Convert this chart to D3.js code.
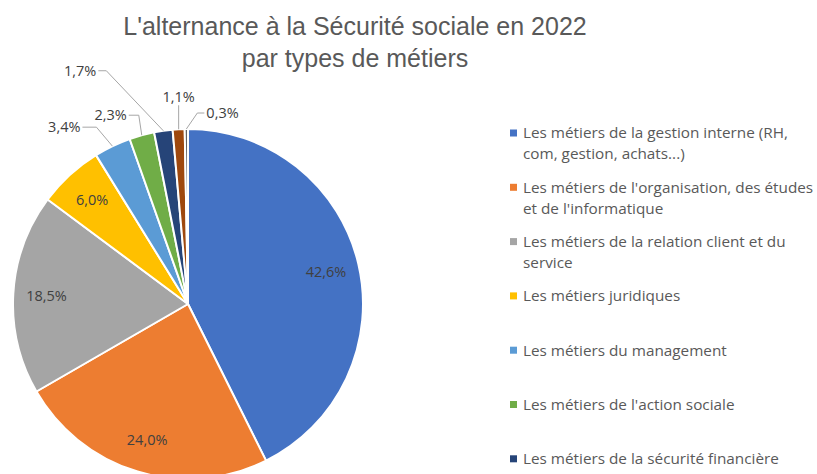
<!DOCTYPE html>
<html><head><meta charset="utf-8">
<script src="https://cdn.jsdelivr.net/npm/d3@7/dist/d3.min.js"></script>
<style>body{margin:0;background:#fff}svg{display:block}</style>
</head><body><svg id="c" width="817" height="474"></svg>
<script>
const categories = [
  ["Les métiers de la gestion interne (RH,", "com, gestion, achats...)"],
  ["Les métiers de l'organisation, des études", "et de l'informatique"],
  ["Les métiers de la relation client et du", "service"],
  ["Les métiers juridiques"],
  ["Les métiers du management"],
  ["Les métiers de l'action sociale"],
  ["Les métiers de la sécurité financière"],
  ["Les métiers de la maîtrise des risques"],
  ["Autres métiers"]
];
const values = [42.6, 24.0, 18.5, 6.0, 3.4, 2.3, 1.7, 1.1, 0.3];
const colors = ["#4472C4", "#ED7D31", "#A5A5A5", "#FFC000", "#5B9BD5", "#70AD47", "#264478", "#9E480E", "#636363"];
const titleLines = ["L'alternance à la Sécurité sociale en 2022", "par types de métiers"];
// leader elbow offsets for outside labels (index -> [dx, dy, horizontal run, side])
const outside = {4: [-16, -19, -14, "end"], 5: [-3, -20, -10, "end"], 6: [-57, -60, -8, "end"], 7: [0, -24, 0, "middle"], 8: [11, -16, 7, "start"]};

const svg = d3.select("#c");
const W = 817, H = 474;
const cx = 188, cy = 304, R = 175;
const font = "'Liberation Sans', Arial, sans-serif";
const font2 = "'Open Sans', 'Liberation Sans', sans-serif";

svg.append("g").selectAll("text").data(titleLines).join("text")
  .attr("x", 355).attr("y", (d, i) => 35 + i * 32)
  .attr("text-anchor", "middle").attr("font-family", font)
  .attr("font-size", 25).attr("fill", "#595959").text(d => d);

const pie = d3.pie().sort(null).value(d => d)(values);
const arc = d3.arc().innerRadius(0).outerRadius(R);
const g = svg.append("g").attr("transform", `translate(${cx},${cy})`);
g.selectAll("path").data(pie).join("path")
  .attr("d", arc).attr("fill", (d, i) => colors[i])
  .attr("stroke", "#fff").attr("stroke-width", 2).attr("stroke-linejoin", "round");

const fmt = v => v.toFixed(1).replace(".", ",") + "%";
const inArc = d3.arc().innerRadius(R * 0.81).outerRadius(R * 0.81);
const edgeArc = d3.arc().innerRadius(R).outerRadius(R);

pie.forEach((d, i) => {
  if (outside[i]) {
    const [ox, oy, run, anchor] = outside[i];
    const [ex, ey] = edgeArc.centroid(d);
    const bx = ex + ox, by = ey + oy;
    const hx = bx + run;
    g.append("polyline")
      .attr("points", `${ex},${ey} ${bx},${by} ${hx},${by}`)
      .attr("fill", "none").attr("stroke", "#A6A6A6").attr("stroke-width", 1);
    let tx = hx, ty = by;
    if (anchor === "end") tx = hx - 2;
    if (anchor === "start") tx = hx + 2;
    if (anchor === "middle") ty = by - 8;
    g.append("text").attr("x", tx).attr("y", ty).attr("dy", "0.35em")
      .attr("text-anchor", anchor).attr("font-family", font2).attr("font-size", 14.5)
      .attr("fill", "#404040").text(fmt(values[i]));
  } else {
    const [x, y] = inArc.centroid(d);
    g.append("text").attr("x", x).attr("y", y).attr("dy", "0.35em")
      .attr("text-anchor", "middle").attr("font-family", font2).attr("font-size", 14.5)
      .attr("fill", "#404040").text(fmt(values[i]));
  }
});

const legend = svg.append("g");
const ly0 = 133, lstep = 54.3, lineH = 21;
categories.forEach((c, i) => {
  const y = ly0 + i * lstep;
  if (y > H - 8) return;
  legend.append("rect").attr("x", 510).attr("y", y - 3.5).attr("width", 7).attr("height", 7).attr("fill", colors[i]);
  c.forEach((line, j) => {
    legend.append("text").attr("x", 523).attr("y", y + j * lineH).attr("dy", "0.35em")
      .attr("font-family", font2).attr("font-size", 15.3).attr("fill", "#595959").text(line);
  });
});
</script></body></html>
